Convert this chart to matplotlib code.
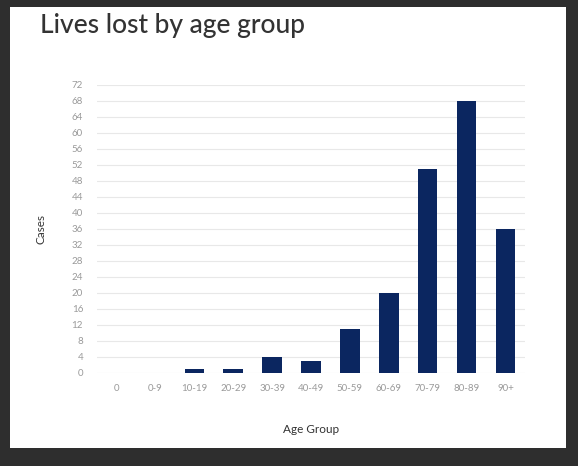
import matplotlib.pyplot as plt
from matplotlib.patches import Rectangle

# data
age_groups = ["0", "0-9", "10-19", "20-29", "30-39", "40-49",
              "50-59", "60-69", "70-79", "80-89", "90+"]
cases = [0, 0, 1, 1, 4, 3, 11, 20, 51, 68, 36]
y_ticks = list(range(0, 73, 4))

W, H = 578, 466
fig = plt.figure(figsize=(W / 100, H / 100), dpi=100)
fig.patch.set_facecolor("#2e2e2e")

# white card inside the dark screen border
card = Rectangle((10 / W, (H - 448) / H), 556 / W, 441 / H,
                 transform=fig.transFigure, facecolor="white",
                 edgecolor="none", zorder=-5)
fig.patches.append(card)

ax = fig.add_axes([97 / W, (H - 373) / H, 428 / W, 288 / H])
ax.set_facecolor("white")

x = range(len(age_groups))
ax.bar(x, cases, width=0.5, color="#0b2660", zorder=3)

ax.set_xlim(-0.5, len(age_groups) - 0.5)
ax.set_ylim(0, 72)
ax.set_yticks(y_ticks)
ax.set_xticks(list(x))
ax.set_xticklabels(age_groups)
ax.grid(axis="y", color="#e8e8e8", linewidth=0.8, zorder=0)
for s in ax.spines.values():
    s.set_visible(False)
ax.tick_params(length=0, labelsize=7, labelcolor="#9a9a9a", pad=8)
ax.tick_params(axis="y", pad=10)

ax.set_xlabel("Age Group", fontsize=8.5, color="#333333", labelpad=22,
              family="Lato")
ax.set_ylabel("Cases", fontsize=8.5, color="#333333", labelpad=18,
              family="Lato")
for lab in ax.get_xticklabels() + ax.get_yticklabels():
    lab.set_family("Lato")

fig.text(40 / W, (H - 26) / H, "Lives lost by age group", fontsize=19,
         color="#333333", family="Lato", weight="medium",
         va="center", ha="left")

fig.savefig("out.png", dpi=100, facecolor=fig.get_facecolor())
